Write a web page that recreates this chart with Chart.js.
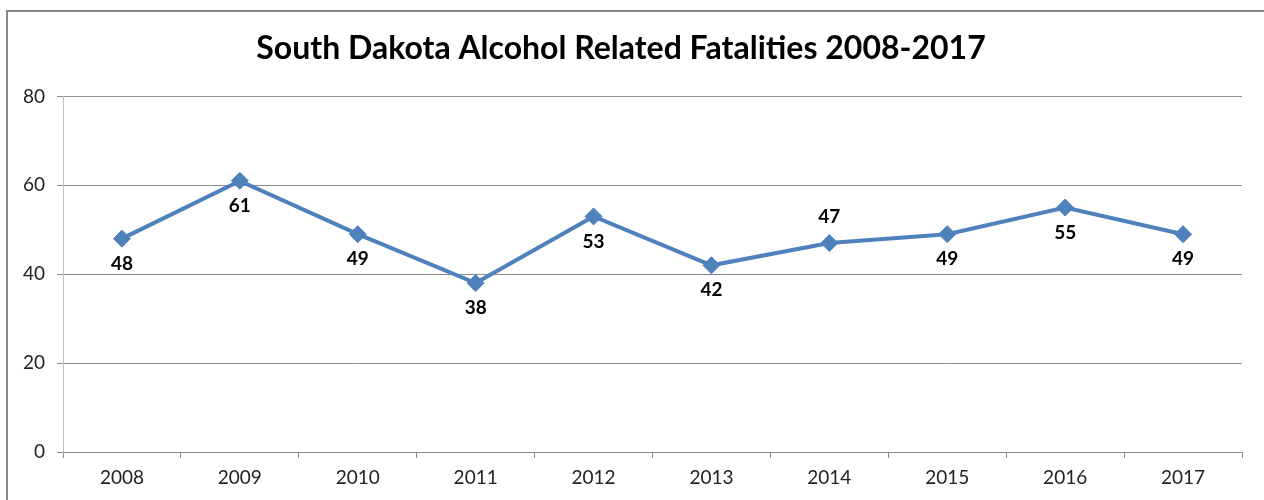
<!DOCTYPE html>
<html>
<head>
<meta charset="utf-8">
<script src="https://cdn.jsdelivr.net/npm/chart.js@4"></script>
<style>
html,body{margin:0;padding:0;background:#fff;}
#wrap{position:relative;width:1264px;height:500px;}
#frame{position:absolute;left:6px;top:10px;width:1256px;height:500px;border-left:2px solid #8a8a8a;border-top:2px solid #8a8a8a;border-right:1px solid #e0e0e0;pointer-events:none;}
</style>
</head>
<body>
<div id="wrap">
<canvas id="c" width="1264" height="500"></canvas>
<div id="frame"></div>
</div>
<script>
const years = ['2008','2009','2010','2011','2012','2013','2014','2015','2016','2017'];
const fatalities = [48, 61, 49, 38, 53, 42, 47, 49, 55, 49];
const labelSide = ['below','below','below','below','below','below','above','below','below','below'];
const yTicks = [0, 20, 40, 60, 80];

const FONT = 'Lato, "Open Sans", sans-serif';

const labelPlugin = {
  id: 'pointLabels',
  afterDatasetsDraw(chart) {
    const ctx = chart.ctx;
    const meta = chart.getDatasetMeta(0);
    ctx.save();
    ctx.font = 'bold 19px ' + FONT;
    ctx.fillStyle = '#000';
    ctx.textAlign = 'center';
    ctx.textBaseline = 'middle';
    meta.data.forEach((pt, i) => {
      const dy = labelSide[i] === 'above' ? -26 : 25;
      ctx.fillText(String(fatalities[i]), pt.x, pt.y + dy);
    });
    ctx.restore();
  }
};

new Chart(document.getElementById('c'), {
  type: 'line',
  data: {
    labels: years,
    datasets: [{
      data: fatalities,
      borderColor: '#4F81BD',
      backgroundColor: '#4F81BD',
      borderWidth: 4,
      pointStyle: 'rectRot',
      pointRadius: 8.5,
      pointBorderWidth: 1,
      tension: 0
    }]
  },
  options: {
    responsive: false,
    animation: false,
    layout: { padding: { left: 0, right: 22, top: 0, bottom: 0 } },
    plugins: {
      legend: { display: false },
      tooltip: { enabled: false },
      title: {
        display: true,
        text: 'South Dakota Alcohol Related Fatalities 2008-2017',
        color: '#000',
        font: { family: FONT, size: 32, weight: 'bold' },
        padding: { top: 29, bottom: 29 }
      }
    },
    scales: {
      x: {
        offset: true,
        afterFit(s) { s.height = 48; },
        grid: { display: true, drawOnChartArea: false, offset: true, tickLength: 6, color: '#8c8c8c' },
        border: { color: '#8c8c8c', width: 1 },
        ticks: { color: '#222', font: { family: FONT, size: 19 }, padding: 8, maxRotation: 0 }
      },
      y: {
        min: 0, max: 80,
        afterFit(s) { s.width = 63; },
        afterBuildTicks(s) { s.ticks = yTicks.map(v => ({ value: v })); },
        grid: { color: '#8c8c8c', tickLength: 6 },
        border: { color: '#bdbdbd', width: 1 },
        ticks: { color: '#222', font: { family: FONT, size: 19 }, padding: 12 }
      }
    }
  },
  plugins: [labelPlugin]
});
</script>
</body>
</html>
